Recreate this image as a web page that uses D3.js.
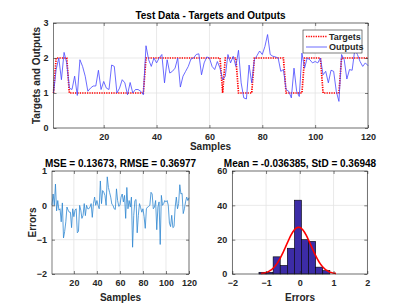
<!DOCTYPE html>
<html>
<head>
<meta charset="utf-8">
<script src="https://cdn.jsdelivr.net/npm/d3@7/dist/d3.min.js"></script>
<style>
  body { margin: 0; background: #fff; }
  svg { display: block; font-family: "Liberation Sans", Arial, sans-serif; }
  .tick text { font-size: 9px; font-weight: bold; fill: #262626; }
  .lbl { font-size: 10px; font-weight: bold; fill: #262626; }
  .ttl { font-size: 10px; font-weight: bold; fill: #000; }
</style>
</head>
<body>
<div id="chart"></div>
<script>
// ---- data ----
var targets = [1,2,2,2,2,2,1,1,1,1, 1,1,1,1,1,1,1,1,1,1,
               1,1,1,1,1,1,1,1,1,1, 1,1,1,1,1,2,2,2,2,2,
               2,2,2,2,2,2,2,2,2,2, 2,2,2,2,2,2,2,2,2,2,
               2,2,2,2,1,2,2,2,2,2, 1,1,1,1,1,1,2,2,2,2,
               2,2,2,2,2,2,2,2,1,1, 1,1,1,1,1,2,2,2,2,2,
               2,2,1,1,1,1,1,1,1,2, 2,2,2,2,2,2,2,2,2,2];
var outputs = [1.0,1.67,2.0,1.38,2.16,1.86,1.14,1.1,1.48,0.93,
               1.95,1.76,1.48,1.05,1.14,1.2,1.2,1.65,1.1,1.33,
               1.14,1.1,1.8,1.76,1.0,1.14,1.38,1.29,0.95,1.3,
               1.0,1.1,1.1,1.05,0.95,2.35,1.95,1.76,2.0,1.86,
               2.0,2.1,1.29,1.95,1.57,1.62,1.71,2.0,1.17,1.48,
               1.62,1.76,1.97,2.0,2.1,2.12,1.52,1.86,2.03,2.0,
               1.76,1.67,1.9,1.71,1.38,1.48,2.1,1.86,2.05,1.76,
               2.22,1.29,0.86,0.83,1.8,1.29,1.95,2.07,2.2,2.1,
               2.33,2.67,2.1,2.05,2.03,2.0,1.62,1.67,1.1,1.05,
               0.86,1.71,1.05,0.9,2.14,1.71,2.0,1.95,1.86,1.9,
               1.86,2.0,1.52,1.62,1.29,1.65,1.62,1.05,0.76,2.1,
               1.95,1.4,1.67,1.65,2.24,2.1,1.9,1.76,1.86,1.78];
var samples = d3.range(1, outputs.length + 1);
// errors = targets - outputs
var errors = targets.map(function(t, i) { return t - outputs[i]; });

var binCenters = [-1.105,-0.895,-0.685,-0.475,-0.265,-0.055,0.155,0.365,0.575,0.785];
var binCounts  = [1,1,10,5,15,43,20,19,4,2];
var binWidth = 0.21;
var errMean = -0.036385, errStd = 0.36948;

var topTitle = "Test Data - Targets and Outputs";
var mseTitle = "MSE = 0.13673, RMSE = 0.36977";
var histTitle = "Mean = -0.036385, StD = 0.36948";

var sampleTicks = [20,40,60,80,100,120];
var topYTicks = [0,1,2,3];
var errYTicks = [-2,-1,0,1];
var histXTicks = [-2,-1,0,1,2];
var histYTicks = [0,20,40,60];

// ---- layout ----
var W = 407, H = 308;
var svg = d3.select("#chart").append("svg")
    .attr("width", W).attr("height", H);

// draws grid, box, ticks and labels for one axes
function frame(x, y, xt, yt) {
    var g = svg.append("g");
    var x0 = x.range()[0], x1 = x.range()[1];
    var y0 = y.range()[0], y1 = y.range()[1];
    g.append("rect").attr("x", x0).attr("y", y1)
        .attr("width", x1 - x0).attr("height", y0 - y1).attr("fill", "#fff");
    g.selectAll(".gx").data(xt).enter().append("line")
        .attr("x1", x).attr("x2", x).attr("y1", y0).attr("y2", y1)
        .attr("stroke", "#e3e3e3").attr("stroke-width", 0.8);
    g.selectAll(".gy").data(yt).enter().append("line")
        .attr("y1", y).attr("y2", y).attr("x1", x0).attr("x2", x1)
        .attr("stroke", "#e3e3e3").attr("stroke-width", 0.8);
    return g;
}
function axes(x, y, xt, yt) {
    var x0 = x.range()[0], x1 = x.range()[1];
    var y0 = y.range()[0], y1 = y.range()[1];
    var g = svg.append("g");
    var ax = g.append("g").attr("transform", "translate(0," + y0 + ")")
        .call(d3.axisBottom(x).tickValues(xt).tickSize(-3).tickPadding(6).tickFormat(d3.format("d")));
    var axT = g.append("g").attr("transform", "translate(0," + y1 + ")")
        .call(d3.axisTop(x).tickValues(xt).tickSize(-3).tickFormat(""));
    var ay = g.append("g").attr("transform", "translate(" + x0 + ",0)")
        .call(d3.axisLeft(y).tickValues(yt).tickSize(-3).tickPadding(5).tickFormat(d3.format("d")));
    var ayR = g.append("g").attr("transform", "translate(" + x1 + ",0)")
        .call(d3.axisRight(y).tickValues(yt).tickSize(-3).tickFormat(""));
    g.selectAll(".domain").remove();
    g.selectAll(".tick line").attr("stroke", "#262626").attr("stroke-width", 0.6);
    g.selectAll(".tick text").attr("font-family", null).attr("font-size", null);
    g.append("rect").attr("x", x0).attr("y", y1)
        .attr("width", x1 - x0).attr("height", y0 - y1)
        .attr("fill", "none").attr("stroke", "#262626").attr("stroke-width", 0.6);
    return g;
}
function text(cls, x, y, s, rot) {
    var t = svg.append("text").attr("class", cls).attr("text-anchor", "middle").text(s);
    if (rot) t.attr("transform", "translate(" + x + "," + y + ") rotate(-90)");
    else t.attr("x", x).attr("y", y);
    return t;
}

// ---- top: targets and outputs ----
var xTop = d3.scaleLinear().domain([1, 120]).range([53.5, 368]);
var yTop = d3.scaleLinear().domain([0, 3]).range([128, 23]);
frame(xTop, yTop, sampleTicks, topYTicks);

svg.append("path").datum(targets)
    .attr("fill", "none").attr("stroke", "#ff0000").attr("stroke-width", 1.7)
    .attr("stroke-dasharray", "1.3,1.1")
    .attr("d", d3.line().x(function(d, i) { return xTop(samples[i]); }).y(function(d) { return yTop(d); }));
svg.append("path").datum(outputs)
    .attr("fill", "none").attr("stroke", "#4646ff").attr("stroke-width", 0.8)
    .attr("d", d3.line().x(function(d, i) { return xTop(samples[i]); }).y(function(d) { return yTop(d); }));
axes(xTop, yTop, sampleTicks, topYTicks);

text("ttl", 210.5, 19, topTitle);
text("lbl", 210.5, 150, "Samples");
text("lbl", 40, 75.5, "Targets and Outputs", true);

// legend
var leg = svg.append("g").attr("transform", "translate(303,30)");
leg.append("rect").attr("width", 59).attr("height", 23)
    .attr("fill", "#fff").attr("stroke", "#262626").attr("stroke-width", 0.6);
leg.append("line").attr("x1", 3).attr("x2", 24).attr("y1", 6.5).attr("y2", 6.5)
    .attr("stroke", "#ff0000").attr("stroke-width", 1.7).attr("stroke-dasharray", "1.3,1.1");
leg.append("line").attr("x1", 3).attr("x2", 24).attr("y1", 17).attr("y2", 17)
    .attr("stroke", "#4646ff").attr("stroke-width", 0.8);
leg.append("text").attr("x", 26).attr("y", 9.5).attr("class", "lbl").style("font-size", "9px").text("Targets");
leg.append("text").attr("x", 26).attr("y", 20).attr("class", "lbl").style("font-size", "9px").text("Outputs");

// ---- bottom left: errors ----
var xErr = d3.scaleLinear().domain([1, 120]).range([52, 189]);
var yErr = d3.scaleLinear().domain([-2, 1]).range([274, 171]);
frame(xErr, yErr, sampleTicks, errYTicks);
svg.append("path").datum(errors)
    .attr("fill", "none").attr("stroke", "#2f86d0").attr("stroke-width", 0.8)
    .attr("d", d3.line().x(function(d, i) { return xErr(samples[i]); }).y(function(d) { return yErr(d); }));
axes(xErr, yErr, sampleTicks, errYTicks);
text("ttl", 120.5, 166.5, mseTitle);
text("lbl", 120.5, 301, "Samples");
text("lbl", 36, 222.5, "Errors", true);

// ---- bottom right: error histogram ----
var xH = d3.scaleLinear().domain([-2, 2]).range([232.3, 367.3]);
var yH = d3.scaleLinear().domain([0, 60]).range([274, 171]);
frame(xH, yH, histXTicks, histYTicks);
svg.selectAll(".bar").data(binCenters).enter().append("rect")
    .attr("class", "bar")
    .attr("x", function(d) { return xH(d - binWidth / 2); })
    .attr("width", function(d) { return xH(d + binWidth / 2) - xH(d - binWidth / 2); })
    .attr("y", function(d, i) { return yH(binCounts[i]); })
    .attr("height", function(d, i) { return yH(0) - yH(binCounts[i]); })
    .attr("fill", "#3c2ca6").attr("stroke", "#000").attr("stroke-width", 0.6);

// fitted normal curve, scaled to counts
var nTot = d3.sum(binCounts);
var curveX = d3.range(errMean - 3 * errStd, errMean + 3 * errStd + 1e-9, errStd / 20);
svg.append("path").datum(curveX)
    .attr("fill", "none").attr("stroke", "#ff0000").attr("stroke-width", 1.6)
    .attr("d", d3.line()
        .x(function(d) { return xH(d); })
        .y(function(d) {
            var z = (d - errMean) / errStd;
            return yH(nTot * binWidth * Math.exp(-0.5 * z * z) / (errStd * Math.sqrt(2 * Math.PI)));
        }));
axes(xH, yH, histXTicks, histYTicks);
text("ttl", 300, 166.5, histTitle);
text("lbl", 300, 301, "Errors");
</script>
</body>
</html>
